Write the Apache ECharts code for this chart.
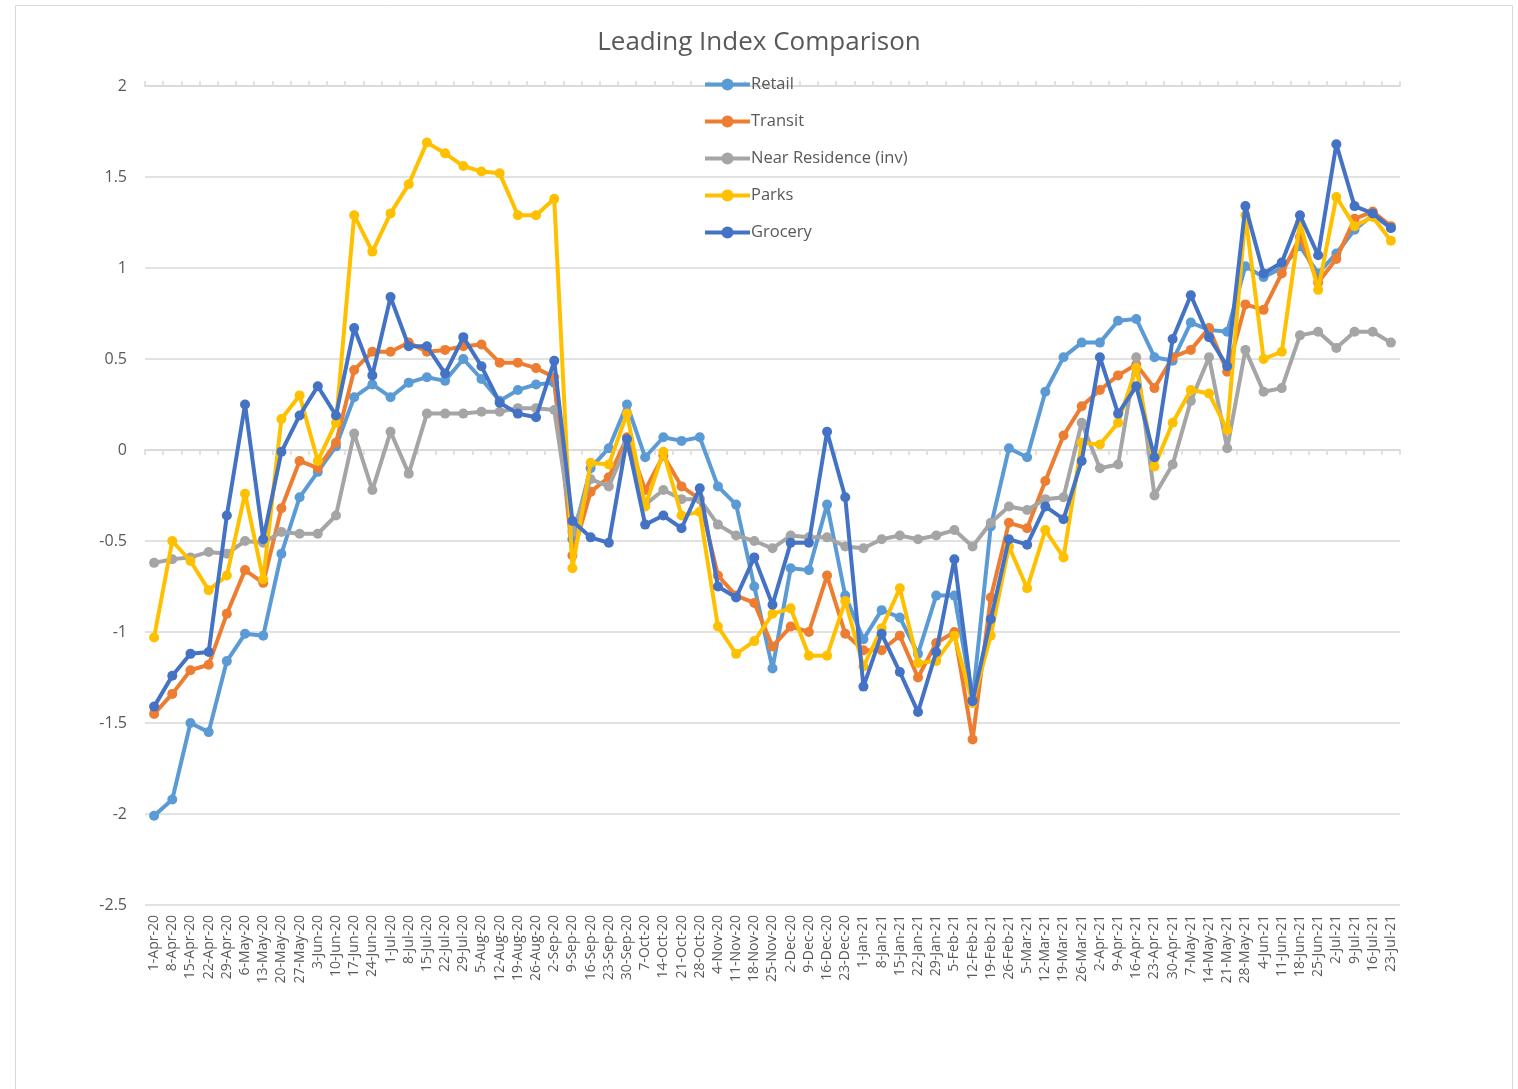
<!DOCTYPE html>
<html>
<head>
	<meta charset="utf-8">
	<title>Leading Index Comparison</title>
	<style>
		html,body{margin:0;padding:0;background:#fff;}
		#chart{width:1518px;height:1089px;}
	</style>
</head>
<body>
	<div id="chart"></div>
</body>
<script type="text/javascript" src="https://cdn.jsdelivr.net/npm/echarts@6/dist/echarts.min.js"></script>
<script type="text/javascript">
	var dates = ['1-Apr-20','8-Apr-20','15-Apr-20','22-Apr-20','29-Apr-20','6-May-20','13-May-20','20-May-20','27-May-20','3-Jun-20',
		'10-Jun-20','17-Jun-20','24-Jun-20','1-Jul-20','8-Jul-20','15-Jul-20','22-Jul-20','29-Jul-20','5-Aug-20','12-Aug-20',
		'19-Aug-20','26-Aug-20','2-Sep-20','9-Sep-20','16-Sep-20','23-Sep-20','30-Sep-20','7-Oct-20','14-Oct-20','21-Oct-20',
		'28-Oct-20','4-Nov-20','11-Nov-20','18-Nov-20','25-Nov-20','2-Dec-20','9-Dec-20','16-Dec-20','23-Dec-20','1-Jan-21',
		'8-Jan-21','15-Jan-21','22-Jan-21','29-Jan-21','5-Feb-21','12-Feb-21','19-Feb-21','26-Feb-21','5-Mar-21','12-Mar-21',
		'19-Mar-21','26-Mar-21','2-Apr-21','9-Apr-21','16-Apr-21','23-Apr-21','30-Apr-21','7-May-21','14-May-21','21-May-21',
		'28-May-21','4-Jun-21','11-Jun-21','18-Jun-21','25-Jun-21','2-Jul-21','9-Jul-21','16-Jul-21','23-Jul-21'];

	var retail = [-2.01,-1.92,-1.50,-1.55,-1.16,-1.01,-1.02,-0.57,-0.26,-0.12,
		0.02,0.29,0.36,0.29,0.37,0.40,0.38,0.50,0.39,0.27,
		0.33,0.36,0.37,-0.49,-0.10,0.01,0.25,-0.04,0.07,0.05,
		0.07,-0.20,-0.30,-0.75,-1.20,-0.65,-0.66,-0.30,-0.80,-1.04,
		-0.88,-0.92,-1.12,-0.80,-0.80,-1.37,-0.42,0.01,-0.04,0.32,
		0.51,0.59,0.59,0.71,0.72,0.51,0.49,0.70,0.66,0.65,
		1.01,0.95,1.00,1.12,0.97,1.08,1.21,1.29,1.22];

	var transit = [-1.45,-1.34,-1.21,-1.18,-0.90,-0.66,-0.73,-0.32,-0.06,-0.10,
		0.04,0.44,0.54,0.54,0.59,0.54,0.55,0.57,0.58,0.48,
		0.48,0.45,0.40,-0.58,-0.23,-0.15,0.07,-0.22,-0.03,-0.20,
		-0.27,-0.69,-0.80,-0.84,-1.08,-0.97,-1.00,-0.69,-1.01,-1.10,
		-1.10,-1.02,-1.25,-1.06,-1.00,-1.59,-0.81,-0.40,-0.43,-0.17,
		0.08,0.24,0.33,0.41,0.47,0.34,0.51,0.55,0.67,0.43,
		0.80,0.77,0.97,1.17,0.92,1.05,1.27,1.31,1.23];

	var nearResidence = [-0.62,-0.60,-0.59,-0.56,-0.57,-0.50,-0.51,-0.45,-0.46,-0.46,
		-0.36,0.09,-0.22,0.10,-0.13,0.20,0.20,0.20,0.21,0.21,
		0.23,0.23,0.22,-0.45,-0.16,-0.20,0.03,-0.30,-0.22,-0.27,
		-0.27,-0.41,-0.47,-0.50,-0.54,-0.47,-0.48,-0.48,-0.53,-0.54,
		-0.49,-0.47,-0.49,-0.47,-0.44,-0.53,-0.40,-0.31,-0.33,-0.27,
		-0.26,0.15,-0.10,-0.08,0.51,-0.25,-0.08,0.27,0.51,0.01,
		0.55,0.32,0.34,0.63,0.65,0.56,0.65,0.65,0.59];

	var parks = [-1.03,-0.50,-0.61,-0.77,-0.69,-0.24,-0.71,0.17,0.30,-0.06,
		0.15,1.29,1.09,1.30,1.46,1.69,1.63,1.56,1.53,1.52,
		1.29,1.29,1.38,-0.65,-0.07,-0.08,0.20,-0.31,-0.01,-0.36,
		-0.34,-0.97,-1.12,-1.05,-0.90,-0.87,-1.13,-1.13,-0.83,-1.19,
		-0.98,-0.76,-1.17,-1.16,-1.02,-1.39,-1.02,-0.53,-0.76,-0.44,
		-0.59,0.04,0.03,0.15,0.45,-0.09,0.15,0.33,0.31,0.11,
		1.29,0.50,0.54,1.25,0.88,1.39,1.23,1.28,1.15];

	var grocery = [-1.41,-1.24,-1.12,-1.11,-0.36,0.25,-0.49,-0.01,0.19,0.35,
		0.19,0.67,0.41,0.84,0.57,0.57,0.42,0.62,0.46,0.26,
		0.20,0.18,0.49,-0.39,-0.48,-0.51,0.06,-0.41,-0.36,-0.43,
		-0.21,-0.75,-0.81,-0.59,-0.85,-0.51,-0.51,0.10,-0.26,-1.30,
		-1.01,-1.22,-1.44,-1.11,-0.60,-1.38,-0.93,-0.49,-0.52,-0.31,
		-0.38,-0.06,0.51,0.20,0.35,-0.04,0.61,0.85,0.62,0.46,
		1.34,0.97,1.03,1.29,1.07,1.68,1.34,1.30,1.22];

	var seriesNames = ['Retail','Transit','Near Residence (inv)','Parks','Grocery'];
	var seriesColors = ['#5B9BD5','#ED7D31','#A5A5A5','#FFC000','#4472C4'];
	var seriesData = [retail,transit,nearResidence,parks,grocery];

	var fontName = 'Open Sans';
	var series = [];
	for(var i=0;i<seriesNames.length;i++){
		series.push({
			name:seriesNames[i],
			type:'line',
			data:seriesData[i],
			symbol:'circle',
			symbolSize:10,
			lineStyle:{width:4,color:seriesColors[i]},
			itemStyle:{color:seriesColors[i]},
			z:2+i
		});
	}

	var option = {
		animation:false,
		color:seriesColors,
		title:{
			text:'Leading Index Comparison',
			left:'center',
			top:25,
			textStyle:{fontFamily:fontName,fontSize:26,fontWeight:'normal',color:'#595959'}
		},
		legend:{
			data:seriesNames,
			orient:'vertical',
			left:703,
			top:76,
			padding:0,
			itemWidth:45,
			itemHeight:15,
			itemGap:20,
			lineStyle:{width:4},
			textStyle:{fontFamily:fontName,fontSize:16.5,color:'#595959',padding:[0,0,0,-4]}
		},
		graphic:[{
			type:'rect',
			shape:{x:15.5,y:5.5,width:1497,height:1095},
			style:{fill:'none',stroke:'#D9D9D9',lineWidth:1},
			silent:true
		}],
		grid:{left:145,right:118,top:86,bottom:184},
		xAxis:[
			{
				type:'category',
				data:dates,
				position:'bottom',
				axisLine:{show:false,onZero:false},
				axisTick:{show:false},
				axisLabel:{interval:0,rotate:90,fontFamily:fontName,fontSize:14,color:'#595959',margin:10}
			},
			{
				type:'category',
				data:dates,
				position:'bottom',
				axisLine:{show:true,onZero:true,lineStyle:{color:'#D9D9D9',width:1.5}},
				axisTick:{show:true,interval:0,length:5,lineStyle:{color:'#D9D9D9',width:1.5}},
				axisLabel:{show:false}
			},
			{
				type:'category',
				data:dates,
				position:'top',
				axisLine:{show:true,onZero:true,lineStyle:{color:'#D9D9D9',width:1.5}},
				axisTick:{show:true,interval:0,length:5,lineStyle:{color:'#D9D9D9',width:1.5}},
				axisLabel:{show:false}
			}
		],
		yAxis:{
			type:'value',
			min:-2.5,
			max:2,
			interval:0.5,
			axisLine:{show:false},
			axisTick:{show:false},
			axisLabel:{fontFamily:fontName,fontSize:16,color:'#595959',margin:18},
			splitLine:{lineStyle:{color:'#D9D9D9',width:1.5}}
		},
		series:series
	};

	var chart = echarts.init(document.getElementById('chart'));
	chart.setOption(option);
</script>
</html>
